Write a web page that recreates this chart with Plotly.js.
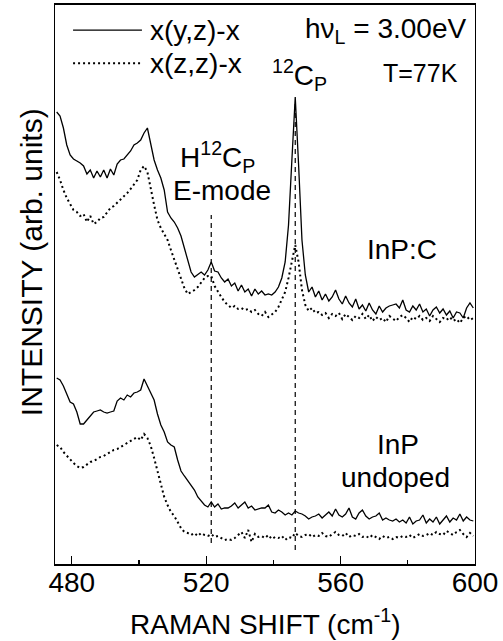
<!DOCTYPE html>
<html>
<head>
<meta charset="utf-8">
<script src="https://cdn.plot.ly/plotly-3.0.1.min.js"></script>
<style>
  html, body { margin: 0; padding: 0; background: #fff; }
  #chart { width: 503px; height: 641px; }
</style>
</head>
<body>
<div id="chart"></div>
<script>
// Raman shift (cm^-1)
const ramanShift = [
  475.5,476.5,477.5,478.5,479.5,480.5,481.5,482.5,483.5,484.5,
  485.5,486.5,487.5,488.5,489.5,490.5,491.5,492.5,493.5,494.5,
  495.5,496.5,497.5,498.5,499.5,500.5,501.5,502.5,503.5,504.5,
  505.5,506.5,507.5,508.5,509.5,510.5,511.5,512.5,513.5,514.5,
  515.5,516.5,517.5,518.5,519.5,520.5,521.5,522.5,523.5,524.5,
  525.5,526.5,527.5,528.5,529.5,530.5,531.5,532.5,533.5,534.5,
  535.5,536.5,537.5,538.5,539.5,540.5,541.5,542.5,543.5,544.5,
  545.5,546.5,547.5,548.5,549.5,550.5,551.5,552.5,553.5,554.5,
  555.5,556.5,557.5,558.5,559.5,560.5,561.5,562.5,563.5,564.5,
  565.5,566.5,567.5,568.5,569.5,570.5,571.5,572.5,573.5,574.5,
  575.5,576.5,577.5,578.5,579.5,580.5,581.5,582.5,583.5,584.5,
  585.5,586.5,587.5,588.5,589.5,590.5,591.5,592.5,593.5,594.5,
  595.5,596.5,597.5,598.5,599.5
];

// InP:C, x(y,z)-x (solid)
const inpcYZ = [
  452,448,436,419,409,405,403,401,398,390,
  394,386,393,387,394,386,395,389,400,404,
  405,409,413,419,421,424,431,436,419,404,
  394,386,374,352,346,342,336,328,316,304,
  292,287,290,292,289,294,302,293,292,286,
  282,285,278,281,273,279,272,275,268,275,
  270,273,269,270,269,272,277,286,302,339,
  404,467,399,324,289,272,277,267,273,264,
  270,263,267,274,265,260,268,261,257,265,
  255,259,253,261,254,250,258,252,256,258,
  259,260,256,264,254,252,258,254,260,252,
  255,248,254,257,251,255,249,253,246,252,
  251,246,256,261,256
];

// InP:C, x(z,z)-x (dotted)
const inpcZZ = [
  392,384,374,366,360,354,352,348,350,342,
  348,340,342,346,347,352,356,358,361,364,
  368,371,375,379,384,394,398,392,374,359,
  344,336,330,324,314,304,294,284,276,270,
  272,274,277,282,286,288,288,278,272,267,
  262,259,256,258,255,256,254,255,252,254,
  250,248,252,247,250,252,257,264,272,286,
  302,319,302,274,259,253,256,251,252,249,
  251,246,250,248,251,245,250,247,244,248,
  246,250,245,249,243,247,244,246,242,248,
  245,243,247,249,246,242,247,245,248,244,
  246,243,248,245,242,246,244,247,243,245,
  241,246,248,244,246
];

// InP undoped, x(y,z)-x (solid)
const inpYZ = [
  186,184,178,169,162,160,152,140,140,144,
  148,152,153,154,152,151,152,153,163,166,
  164,169,167,171,172,174,185,178,171,164,
  150,139,132,122,119,117,104,93,88,83,
  78,74,67,63,59,57,62,57,60,55,
  56,56,58,61,56,59,62,56,58,54,
  55,56,56,59,52,51,54,52,49,51,
  49,53,51,50,48,45,47,48,50,46,
  49,52,48,55,49,47,50,56,47,45,
  51,54,48,45,47,48,51,44,46,44,
  43,45,42,44,41,47,40,43,44,49,
  41,45,42,47,40,44,48,42,46,44,
  50,43,47,44,43
];

// InP undoped, x(z,z)-x (dotted)
const inpZZ = [
  119,117,112,108,104,101,98,96,97,100,
  102,103,105,107,108,110,112,114,115,117,
  119,121,123,125,127,124,130,126,118,106,
  92,79,67,59,52,48,42,36,32,31,
  29,31,28,31,29,28,30,27,28,26,
  24,25,24,26,29,32,26,34,22,30,
  27,28,26,29,25,27,26,28,24,27,
  26,31,28,27,29,30,27,29,28,31,
  28,27,30,32,29,28,31,27,29,28,
  30,27,28,26,29,27,25,28,26,27,
  25,27,26,28,27,29,26,28,30,28,
  29,31,29,32,30,29,33,31,29,32,
  34,30,27,31,28
];

// Mode marker lines (dashed): H12Cp E-mode and 12Cp
const modePositions = [521.5, 546.5];
const modeLineBottom = [21, 14];
const modeLineTop = [349, 464];

const xTicks = [480, 520, 560, 600];
const xRange = [475, 600];
const yRange = [0, 559];

const FONT = 'Liberation Sans, Arial, Helvetica, sans-serif';
const solid = {color: '#000', width: 1.3};
const dotted = {color: '#000', width: 2, dash: '2px,3px'};

const traces = [
  {x: ramanShift, y: inpcYZ, mode: 'lines', line: solid, showlegend: false},
  {x: ramanShift, y: inpcZZ, mode: 'lines', line: dotted, showlegend: false},
  {x: ramanShift, y: inpYZ, mode: 'lines', line: solid, showlegend: false},
  {x: ramanShift, y: inpZZ, mode: 'lines', line: dotted, showlegend: false}
];
modePositions.forEach((p, i) => {
  traces.push({
    x: [p, p], y: [modeLineBottom[i], modeLineTop[i]],
    mode: 'lines', line: {color: '#000', width: 1.2, dash: '5px,4px'},
    showlegend: false, hoverinfo: 'skip'
  });
});

function tf(size) { return {family: FONT, size: size || 28, color: '#000'}; }
function ann(text, x, y, xanchor, extra) {
  return Object.assign({text: text, x: x, y: y, xref: 'paper', yref: 'paper',
    xanchor: xanchor || 'center', yanchor: 'middle', showarrow: false, font: tf(28)}, extra || {});
}

const layout = {
  width: 503, height: 641,
  margin: {l: 55, r: 28, t: 5, b: 77},
  paper_bgcolor: '#fff', plot_bgcolor: '#fff',
  showlegend: false,
  xaxis: {
    range: xRange, tickvals: xTicks, ticks: 'inside', ticklen: 8, tickwidth: 1.3,
    tickcolor: '#000', ticklabelstandoff: -7,
    minor: {dtick: 20, tick0: 480, ticks: 'inside', ticklen: 4, tickwidth: 1.2, tickcolor: '#000'},
    showline: true, linecolor: '#000', linewidth: 1.6, mirror: true,
    showgrid: false, zeroline: false,
    tickfont: tf(28)
  },
  yaxis: {
    range: yRange, showticklabels: false, ticks: '',
    showline: true, linecolor: '#000', linewidth: 1.3, mirror: true,
    showgrid: false, zeroline: false
  },
  shapes: [
    {type: 'line', xref: 'paper', yref: 'paper', x0: 0.043, x1: 0.207, y0: 0.955, y1: 0.955,
     line: {color: '#000', width: 1.3}},
    {type: 'line', xref: 'paper', yref: 'paper', x0: 0.043, x1: 0.207, y0: 0.896, y1: 0.896,
     line: {color: '#000', width: 2, dash: '2px,3px'}}
  ],
  annotations: [
    ann('x(y,z)-x', 0.221, 0.955, 'left'),
    ann('x(z,z)-x', 0.221, 0.896, 'left'),
    ann('hν<sub>L</sub> = 3.00eV', 0.983, 0.955, 'right'),
    ann('T=77K', 0.964, 0.878, 'right', {font: tf(25)}),
    ann('<sup>12</sup>C<sub>P</sub>', 0.583, 0.875, 'center'),
    ann('H<sup>12</sup>C<sub>P</sub>', 0.386, 0.728, 'center'),
    ann('E-mode', 0.398, 0.669, 'center'),
    ann('InP:C', 0.826, 0.562, 'center'),
    ann('InP', 0.817, 0.213, 'center'),
    ann('undoped', 0.810, 0.154, 'center'),
    ann('INTENSITY (arb. units)', -0.057, 0.540, 'center', {textangle: -90, font: tf(30)}),
    ann('RAMAN SHIFT (cm<sup>-1</sup>)', 0.5, -0.104, 'center')
  ]
};

Plotly.newPlot('chart', traces, layout, {staticPlot: true, displayModeBar: false});
</script>
</body>
</html>
